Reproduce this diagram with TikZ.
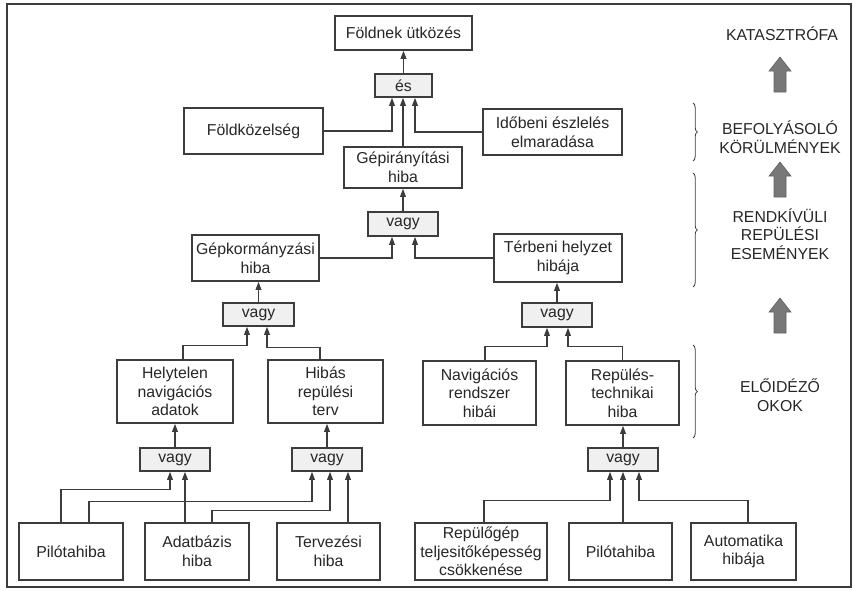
\documentclass[tikz,border=0pt]{standalone}
\usepackage{fontspec}
\setmainfont{Liberation Sans}
\usepackage{tikz}
\usetikzlibrary{arrows.meta, calc, decorations.pathreplacing}
\usepackage{xcolor}
\definecolor{inkgray}{RGB}{60,60,60}
\definecolor{arrgray}{RGB}{120,120,120}
\newcommand{\boxfont}{\fontsize{13.5}{16}\selectfont}
\newcommand{\lvlfont}{\fontsize{13.5}{16}\selectfont}
\tikzset{
  box/.style={rectangle, draw=inkgray, line width=1.3pt, align=center,
    inner sep=1pt, font=\boxfont, text=black!85},
  gate/.style={box, fill=gray!12},
  arr/.style={-{Triangle[length=2.4mm,width=1.7mm]}, line width=1.15pt,
    draw=inkgray},
  lvl/.style={align=center, font=\lvlfont, text=black!85},
  brc/.style={decorate, decoration={brace, amplitude=1.3mm},
    line width=0.7pt, draw=inkgray},
  bigarr/.style={fill=arrgray, draw=inkgray!80, line width=0.5pt},
}
\begin{document}
\begin{tikzpicture}[x=0.3mm, y=-0.3mm]
  \useasboundingbox (0,0) rectangle (853,590);
  \draw[line width=1.4pt, inkgray] (7,4) rectangle (851,587);

  % -- Top event --
  \node[box, minimum width=41.1mm, minimum height=10.2mm] (crash) at (403.5,33) {Földnek ütközés};
  \node[gate, minimum width=17.1mm, minimum height=6.9mm] (andg) at (403.5,85.5) {és};
  \node[box, minimum width=41.7mm, minimum height=13.8mm] (prox) at (253.5,131) {Földközelség};
  \node[box, minimum width=41.7mm, minimum height=13.8mm] (late) at (552.5,132) {Időbeni észlelés\\elmaradása};
  \node[box, minimum width=35.4mm, minimum height=12.3mm] (ctrl) at (403,167.5) {Gépirányítási\\hiba};

  % -- Second level --
  \node[gate, minimum width=21mm, minimum height=7.2mm] (or1) at (403,224) {vagy};
  \node[box, minimum width=38.1mm, minimum height=13.8mm] (steer) at (255.5,258) {Gépkormányzási\\hiba};
  \node[box, minimum width=38.4mm, minimum height=14.4mm] (spat) at (558,258) {Térbeni helyzet\\hibája};
  \node[gate, minimum width=21.3mm, minimum height=6.9mm] (or2) at (258.5,314.5) {vagy};
  \node[gate, minimum width=21mm, minimum height=7.2mm] (or3) at (557,315) {vagy};

  % -- Causes --
  \node[box, minimum width=34.8mm, minimum height=18.9mm] (nav) at (175,391.5) {Helytelen\\navigációs\\adatok};
  \node[box, minimum width=34.5mm, minimum height=18.9mm] (plan) at (325.5,391.5) {Hibás\\repülési\\terv};
  \node[box, minimum width=33.9mm, minimum height=19.2mm] (navsys) at (479.5,393) {Navigációs\\rendszer\\hibái};
  \node[box, minimum width=33.9mm, minimum height=19.2mm] (tech) at (622.5,393) {Repülés-\\technikai\\hiba};
  \node[gate, minimum width=21mm, minimum height=6.9mm] (or4) at (175,459.5) {vagy};
  \node[gate, minimum width=21mm, minimum height=6.9mm] (or5) at (327,459.5) {vagy};
  \node[gate, minimum width=21mm, minimum height=6.9mm] (or6) at (623,459.5) {vagy};

  % -- Basic events --
  \node[box, minimum width=31.2mm, minimum height=17.1mm] (pil1) at (71,551.5) {Pilótahiba};
  \node[box, minimum width=31.2mm, minimum height=17.1mm] (dbase) at (197,551.5) {Adatbázis\\hiba};
  \node[box, minimum width=30.9mm, minimum height=17.1mm] (terv) at (328.5,551.5) {Tervezési\\hiba};
  \node[box, minimum width=39.6mm, minimum height=17.1mm] (rep) at (481,551.5) {Repülőgép\\teljesitőképesség\\csökkenése};
  \node[box, minimum width=30.9mm, minimum height=17.1mm] (pil2) at (620.5,551.5) {Pilótahiba};
  \node[box, minimum width=31.5mm, minimum height=17.1mm] (auto) at (743.5,551.5) {Automatika\\hibája};

  % gate inputs
  \coordinate (andgL) at ($(andg.south)+(-11.5,0)$);
  \coordinate (andgR) at ($(andg.south)+(11.5,0)$);
  \coordinate (or1L) at ($(or1.south)+(-11,0)$);
  \coordinate (or1R) at ($(or1.south)+(12,0)$);
  \coordinate (or2L) at ($(or2.south)+(-11.5,0)$);
  \coordinate (or2R) at ($(or2.south)+(8.5,0)$);
  \coordinate (or3L) at ($(or3.south)+(-10,0)$);
  \coordinate (or3R) at ($(or3.south)+(11,0)$);
  \coordinate (or4L) at ($(or4.south)+(-5,0)$);
  \coordinate (or4R) at ($(or4.south)+(10,0)$);
  \coordinate (or5L) at ($(or5.south)+(-15,0)$);
  \coordinate (or5M) at ($(or5.south)+(3,0)$);
  \coordinate (or5R) at ($(or5.south)+(21,0)$);
  \coordinate (or6L) at ($(or6.south)+(-13,0)$);
  \coordinate (or6R) at ($(or6.south)+(16,0)$);

  % -- Connectors --
  \draw[arr] (andg.north) -- (andg.north |- crash.south);
  \draw[arr] (prox.east) -| (andgL);
  \draw[arr] (ctrl.north) -- (ctrl.north |- andg.south);
  \draw[arr] (late.west) -| (andgR);
  \draw[arr] (or1.north) -- (or1.north |- ctrl.south);
  \draw[arr] (steer.east) -| (or1L);
  \draw[arr] (spat.west) -| (or1R);
  \draw[arr] (or2.north) -- (or2.north |- steer.south);
  \draw[arr] (or3.north) -- (or3.north |- spat.south);
  \draw[arr] ($(nav.north)+(8,0)$) -- ++(0,-14) -| (or2L);
  \draw[arr] ($(plan.north)+(-5.5,0)$) -- ++(0,-12) -| (or2R);
  \draw[arr] ($(navsys.north)+(5.5,0)$) -- ++(0,-14) -| (or3L);
  \draw[arr] (tech.north) -- ++(0,-14) -| (or3R);
  \draw[arr] (or4.north) -- (or4.north |- nav.south);
  \draw[arr] (or5.north) -- (or5.north |- plan.south);
  \draw[arr] (or6.north) -- (or6.north |- tech.south);
  \draw[arr] ($(pil1.north)+(-10,0)$) -- ++(0,-33) -| (or4L);
  \draw[arr] ($(pil1.north)+(18,0)$) -- ++(0,-21) -| (or5L);
  \draw[arr] (or4R |- dbase.north) -- (or4R);
  \draw[arr] ($(dbase.north)+(15,0)$) -- ++(0,-12) -| (or5M);
  \draw[arr] (or5R |- terv.north) -- (or5R);
  \draw[arr] ($(rep.north)+(3,0)$) -- ++(0,-22) -| (or6L);
  \draw[arr] (or6.south |- pil2.north) -- (or6.south);
  \draw[arr] ($(auto.north)+(4.5,0)$) -- ++(0,-22) -| (or6R);

  % -- Levels --
  \node[lvl] (kat) at (782,34) {KATASZTRÓFA};
  \node[lvl] (bef) at (780,137) {BEFOLYÁSOLÓ\\KÖRÜLMÉNYEK};
  \node[lvl] (rend) at (780,234) {RENDKÍVÜLI\\REPÜLÉSI\\ESEMÉNYEK};
  \node[lvl] (elo) at (780,395) {ELŐIDÉZŐ\\OKOK};
  \foreach \yb in {92,197,333}
    \filldraw[bigarr] (774,\yb) -- (774,\yb-21) -- (769,\yb-21) -- (780,\yb-35)
      -- (791,\yb-21) -- (786,\yb-21) -- (786,\yb) -- cycle;
  \draw[brc] (693,103) -- (693,161);
  \draw[brc] (693,173) -- (693,287);
  \draw[brc] (693,345) -- (693,438);
\end{tikzpicture}
\end{document}
